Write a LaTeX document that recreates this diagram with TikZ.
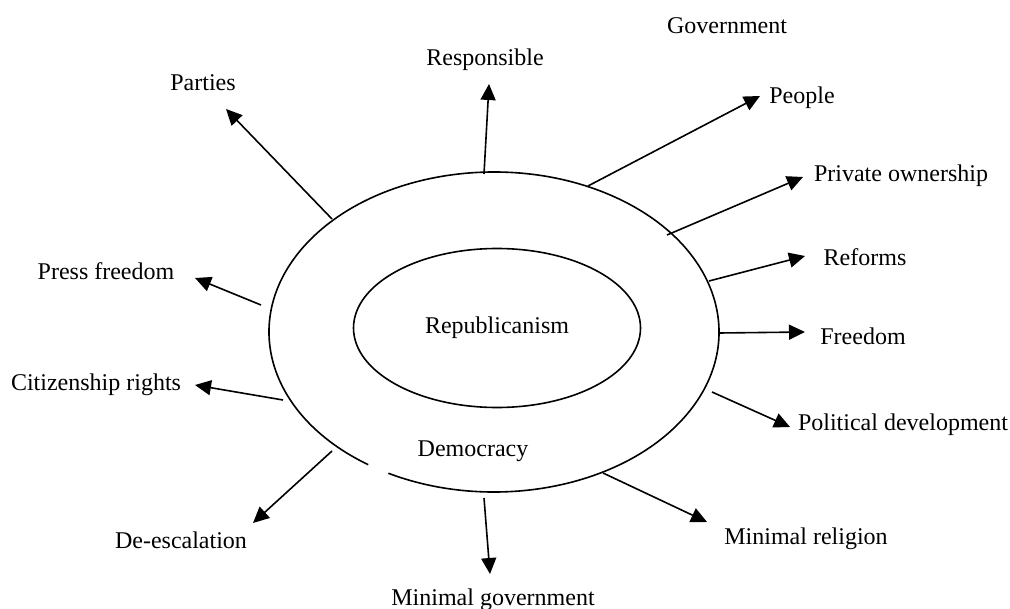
\documentclass[tikz,border=0pt]{standalone}
\usepackage{fontspec}
\setmainfont{Liberation Serif}
\usetikzlibrary{arrows.meta}
\tikzset{
  lbl/.style={font=\fontsize{12}{14}\selectfont, inner sep=0pt},
  spoke/.style={-{Triangle[length=8pt,width=7.5pt]}},
}
\begin{document}
\begin{tikzpicture}[x=0.5pt,y=-0.5pt,line width=0.8pt]
  \useasboundingbox (0,0) rectangle (1010,609);
  % inner ring
  \draw
    (497,328) ellipse [x radius=143.5, y radius=79.5];
  \node[lbl] (rep) at (497,328) {Republicanism};
  % outer ring, open near the bottom left
  \draw
    ([shift={(124:225 and 160)}]494,332)
    arc [start angle=124, end angle=478, x radius=225, y radius=160];
  \node[lbl] (dem) at (473,451) {Democracy};
  % labels
  \node[lbl] (parties) at (203,83) {Parties};
  \node[lbl] (resp) at (485,60) {Responsible};
  \node[lbl] (gov) at (727,26) {Government};
  \node[lbl] (people) at (802,98) {People};
  \node[lbl] (priv) at (901,176) {Private ownership};
  \node[lbl] (ref) at (865,257) {Reforms};
  \node[lbl] (free) at (863,336) {Freedom};
  \node[lbl] (poldev) at (903,425) {Political development};
  \node[lbl] (minrel) at (806,539) {Minimal religion};
  \node[lbl] (mingov) at (493,600) {Minimal government};
  \node[lbl] (deesc) at (181,540) {De-escalation};
  \node[lbl] (cit) at (96,385) {Citizenship rights};
  \node[lbl] (press) at (106,271) {Press freedom};
  % ends of the spokes
  \coordinate (s1) at (332,219);  \coordinate (t1) at (226,109);
  \coordinate (s2) at (484,174);  \coordinate (t2) at (489,84);
  \coordinate (s3) at (588,186);  \coordinate (t3) at (760,96);
  \coordinate (s4) at (667,235);  \coordinate (t4) at (803,177);
  \coordinate (s5) at (709,281);  \coordinate (t5) at (805,256);
  \coordinate (s6) at (719,333);  \coordinate (t6) at (805,332);
  \coordinate (s7) at (712,392);  \coordinate (t7) at (790,427);
  \coordinate (s8) at (603,473);  \coordinate (t8) at (707,522);
  \coordinate (s9) at (484,498);  \coordinate (t9) at (490,574);
  \coordinate (s10) at (332,451); \coordinate (t10) at (253,523);
  \coordinate (s11) at (283,400); \coordinate (t11) at (195,385);
  \coordinate (s12) at (261,305); \coordinate (t12) at (195,278);
  % spokes
  \draw[spoke] (s1) -- (t1);
  \draw[spoke] (s2) -- (t2);
  \draw[spoke] (s3) -- (t3);
  \draw[spoke] (s4) -- (t4);
  \draw[spoke] (s5) -- (t5);
  \draw[spoke] (s6) -- (t6);
  \draw[spoke] (s7) -- (t7);
  \draw[spoke] (s8) -- (t8);
  \draw[spoke] (s9) -- (t9);
  \draw[spoke] (s10) -- (t10);
  \draw[spoke] (s11) -- (t11);
  \draw[spoke] (s12) -- (t12);
\end{tikzpicture}
\end{document}
